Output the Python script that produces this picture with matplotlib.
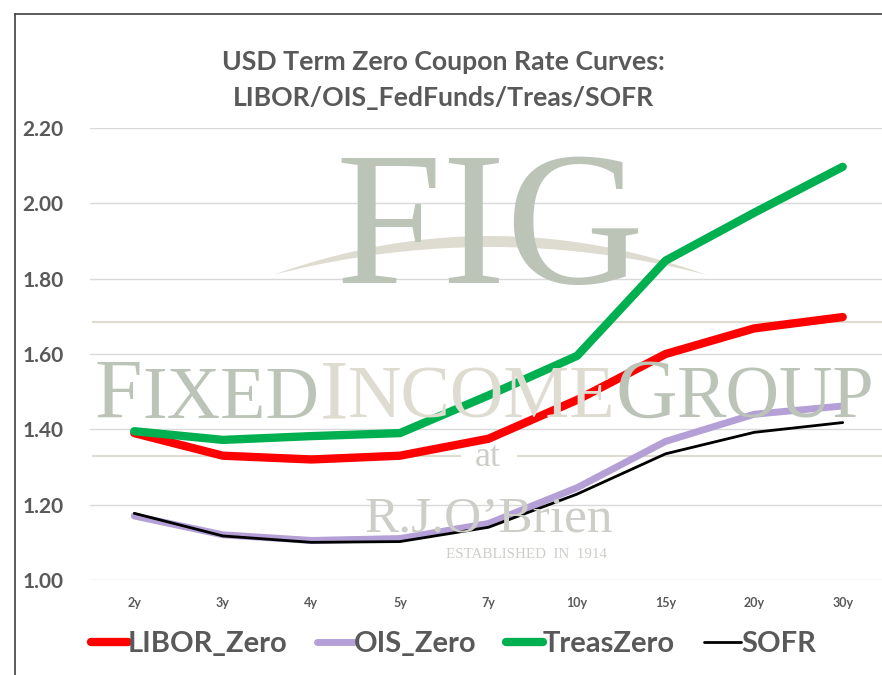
import matplotlib
matplotlib.use("Agg")
import matplotlib.pyplot as plt
from matplotlib.lines import Line2D
from matplotlib.patches import Polygon
import numpy as np

tenors = ["2y", "3y", "4y", "5y", "7y", "10y", "15y", "20y", "30y"]
libor_zero = [1.39, 1.33, 1.32, 1.33, 1.375, 1.478, 1.60, 1.668, 1.698]
ois_zero = [1.17, 1.12, 1.105, 1.11, 1.15, 1.245, 1.368, 1.44, 1.462]
treas_zero = [1.395, 1.372, 1.382, 1.39, 1.49, 1.595, 1.848, 1.975, 2.097]
sofr = [1.177, 1.117, 1.10, 1.102, 1.14, 1.228, 1.335, 1.392, 1.418]
yticks = [1.00, 1.20, 1.40, 1.60, 1.80, 2.00, 2.20]

W, H = 882, 675
fig = plt.figure(figsize=(W / 100, H / 100), dpi=100)
FONT = ["Lato", "DejaVu Sans"]
SERIF = ["Liberation Serif", "DejaVu Serif"]
renderer = fig.canvas.get_renderer()


def fx(px):
    return px / W


def fy(py):
    return 1 - py / H


def fit_width(t, target):
    w = t.get_window_extent(renderer).width
    t.set_fontsize(t.get_fontsize() * target / w)


def place_seq(pieces, x0, base_y, total_w):
    texts = []
    for s, size, col in pieces:
        texts.append(fig.text(0, fy(base_y), s, fontsize=size, family=SERIF, color=col,
                              ha="left", va="baseline", zorder=0))
    widths = [t.get_window_extent(renderer).width for t in texts]
    k = total_w / sum(widths)
    x = x0
    for t in texts:
        t.set_fontsize(t.get_fontsize() * k)
    for t in texts:
        t.set_x(fx(x))
        x += t.get_window_extent(renderer).width


# frame lines (left/top border)
fig.add_artist(Line2D([fx(15), fx(15)], [0, fy(14)], transform=fig.transFigure, color="#404040", lw=1.2))
fig.add_artist(Line2D([fx(15), 1], [fy(14), fy(14)], transform=fig.transFigure, color="#404040", lw=1.2))

# ---- watermark logo ----
wm_green = "#bcc4b8"
wm_tan = "#dedbd0"
wm_gray = "#cdcec8"
place_seq([("F", 100, wm_green), ("I", 100, wm_green), ("G", 100, wm_green)], 335, 283, 308)
t = np.linspace(0, 1, 120)
sx = 273 + 434 * t
upper = 275 - 4 * 39 * t * (1 - t)
lower = 275 - 4 * 28 * t * (1 - t)
poly_x = np.concatenate([sx, sx[::-1]])
poly_y = np.concatenate([upper, lower[::-1]])
fig.add_artist(Polygon(np.column_stack([fx(poly_x), fy(poly_y)]), closed=True, transform=fig.transFigure,
                       facecolor=wm_tan, edgecolor="none", zorder=0))
fig.add_artist(Line2D([fx(93), 1], [fy(322)] * 2, transform=fig.transFigure, color=wm_tan, lw=1.5, zorder=0))
fig.add_artist(Line2D([fx(93), fx(460)], [fy(456)] * 2, transform=fig.transFigure, color=wm_tan, lw=1.5, zorder=0))
fig.add_artist(Line2D([fx(518), 1], [fy(456)] * 2, transform=fig.transFigure, color=wm_tan, lw=1.5, zorder=0))
place_seq([("F", 60, wm_green), ("IXED", 52, wm_green),
           ("I", 60, wm_tan), ("NCOME", 52, wm_tan),
           ("G", 60, wm_green), ("ROUP", 52, wm_green)], 95, 418, 780)
fig.text(fx(488), fy(466), "at", fontsize=26, family=SERIF, color=wm_gray, ha="center", va="baseline", zorder=0)
tb = fig.text(fx(489), fy(532), "R.J.O\u2019Brien", fontsize=44, family=SERIF, color=wm_gray,
              ha="center", va="baseline", zorder=0)
fit_width(tb, 248)
te = fig.text(fx(527), fy(554), "ESTABLISHED  IN  1914", fontsize=8, family=SERIF, color=wm_gray,
              ha="center", va="center", zorder=0)
fit_width(te, 160)

# ---- chart ----
ax = fig.add_axes([fx(90), fy(580), (887 - 90) / W, (580 - 128) / H])
ax.set_facecolor("none")
x = np.arange(len(tenors))
kw = dict(solid_capstyle="round", solid_joinstyle="round")
ax.plot(x, libor_zero, color="#ff0000", lw=6.0, label="LIBOR_Zero", zorder=3, **kw)
ax.plot(x, ois_zero, color="#b4a0d6", lw=5.0, label="OIS_Zero", zorder=3, **kw)
ax.plot(x, treas_zero, color="#00b050", lw=6.0, label="TreasZero", zorder=3, **kw)
ax.plot(x, sofr, color="#000000", lw=2.0, label="SOFR", zorder=4, **kw)

ax.set_xlim(-0.5, 8.5)
ax.set_ylim(1.0, 2.2)
ax.set_yticks(yticks)
ax.set_yticklabels([f"{v:.2f}" for v in yticks], fontsize=15, fontweight="bold", color="#595959", family=FONT)
ax.set_xticks(x)
ax.set_xticklabels(tenors, fontsize=9, fontweight="bold", color="#595959", family=FONT)
ax.tick_params(axis="y", length=0, pad=19)
ax.tick_params(axis="x", length=0, pad=12)
ax.grid(axis="y", color="#d9d9d9", lw=1)
ax.set_axisbelow(True)
for s in ax.spines.values():
    s.set_visible(False)

t1 = fig.text(fx(443), fy(62), "USD Term Zero Coupon Rate Curves:", fontsize=18, fontweight="bold",
              color="#595959", ha="center", va="center", family=FONT)
fit_width(t1, 443)
fig.text(fx(443), fy(98), "LIBOR/OIS_FedFunds/Treas/SOFR", fontsize=t1.get_fontsize(), fontweight="bold",
         color="#595959", ha="center", va="center", family=FONT)

handles, labels = ax.get_legend_handles_labels()
leg = fig.legend(handles, labels, loc="center left", bbox_to_anchor=(fx(91), fy(644)), ncol=4,
                 frameon=False, handlelength=1.27, handletextpad=0.0, columnspacing=1.0,
                 borderpad=0, borderaxespad=0,
                 prop={"family": FONT, "weight": "bold", "size": 21})
for txt in leg.get_texts():
    txt.set_color("#595959")

fig.savefig("out.png", dpi=100)
